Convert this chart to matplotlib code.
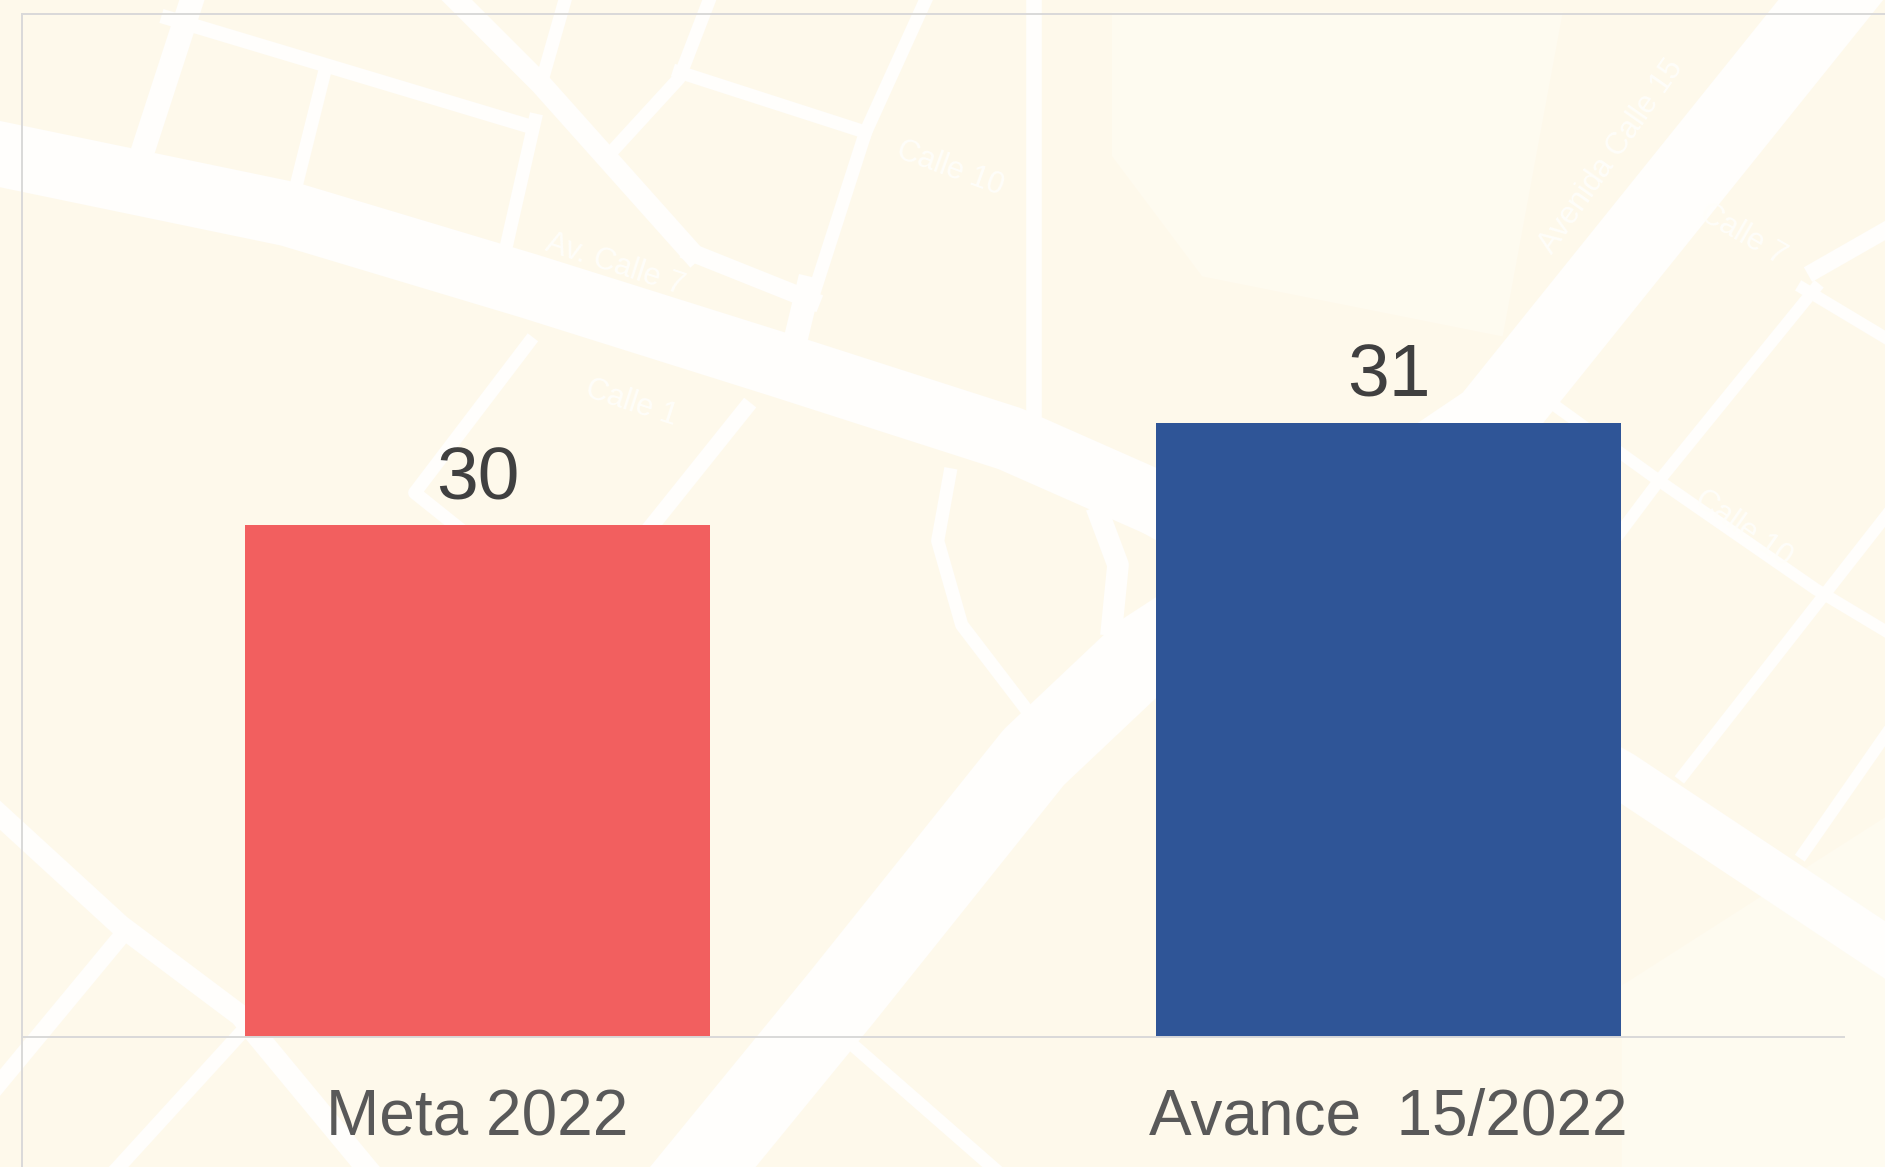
import matplotlib
matplotlib.use("Agg")
import matplotlib.pyplot as plt
from matplotlib.lines import Line2D
from matplotlib.patches import Polygon

plt.rcParams['font.family'] = ['Liberation Sans', 'DejaVu Sans']

categories = ["Meta 2022", "Avance  15/2022"]
values = [30, 31]
bar_colors = ["#F25F5F", "#2F5597"]

# background street map, traced by eye (x, y, width in px of the 1568 wide preview)
roads = [
    ([-30, 240, 440, 650, 840, 960], [122, 178, 238, 304, 365, 418], 54),
    ([1555, 1240, 1050, 950, 860, 700, 520], [-40, 352, 480, 545, 630, 830, 1050], 68),
    ([950, 1349, 1590], [420, 645, 805], 40),
    ([158, 118], [5, 128], 20),
    ([140, 440], [15, 105], 12),
    ([270, 245], [60, 160], 11),
    ([445, 420], [100, 210], 11),
    ([380, 450, 575], [0, 70, 210], 18),
    ([575, 675], [210, 250], 15),
    ([470, 450], [0, 70], 11),
    ([590, 565, 510], [0, 65, 125], 11),
    ([565, 720], [60, 110], 11),
    ([770, 720, 675, 660], [0, 110, 250, 290], 11),
    ([672, 660], [240, 290], 20),
    ([860, 860], [0, 385], 13),
    ([440, 345, 385], [285, 410, 442], 11),
    ([620, 540], [340, 440], 13),
    ([790, 780, 800, 865], [395, 450, 520, 605], 11),
    ([915, 930, 925], [430, 470, 520], 18),
    ([1510, 1380, 1200], [240, 400, 640], 10),
    ([1500, 1580], [240, 288], 10),
    ([1290, 1380, 1510, 1580], [335, 400, 490, 532], 10),
    ([1510, 1580], [225, 185], 14),
    ([1580, 1400], [415, 645], 10),
    ([1580, 1500], [595, 710], 10),
    ([-20, 100, 200, 320], [660, 770, 845, 990], 18),
    ([100, -20], [780, 925], 14),
    ([200, 95], [860, 975], 12),
    ([710, 830], [870, 975], 11),
]
pale_blocks = [
    ([925, 1300, 1250, 1000, 925], [10, 10, 280, 230, 130]),
    ([1349, 1568, 1568, 1349], [820, 680, 971, 971]),
]
street_names = [
    ("Calle 10", 790, 140, -20),
    ("Av. Calle 7", 512, 220, -18),
    ("Calle 1", 525, 335, -18),
    ("Avenida Calle 15", 1340, 130, 55),
    ("Calle 10", 1450, 440, -35),
    ("Calle 7", 1450, 195, -30),
]

fig = plt.figure(figsize=(18.85, 11.67), dpi=100, facecolor="#FEF9EB")

bg = fig.add_axes([0, 0, 1, 1], zorder=0)
bg.set_xlim(0, 1568)
bg.set_ylim(971, 0)
bg.axis("off")
for xs, ys in pale_blocks:
    bg.add_patch(Polygon(list(zip(xs, ys)), closed=True, fc="#FEFBF0", ec="none"))
for xs, ys, w in roads:
    # projecting caps, otherwise the wide roads get a square cut at the image edge
    bg.plot(xs, ys, color="#FFFEFC", lw=w * 0.866, solid_capstyle="projecting",
            solid_joinstyle="round")
for name, x, y, rot in street_names:
    bg.text(x, y, name, color="#FFFEFA", fontsize=22, rotation=rot, ha="center", va="center")

ax = fig.add_axes([22 / 1885, 130 / 1167, 1822 / 1885, 1023 / 1167], zorder=1)
ax.patch.set_alpha(0)
bars = ax.bar(range(len(categories)), values, width=0.51, color=bar_colors, zorder=2)
ax.set_xlim(-0.5, 1.5)
ax.set_ylim(25, 35)
ax.set_yticks([])
ax.set_xticks(range(len(categories)))
ax.set_xticklabels(categories, fontsize=46, color="#595959")
ax.tick_params(axis="x", length=0, pad=37)
for side in ["left", "right", "top"]:
    ax.spines[side].set_visible(False)
ax.spines["bottom"].set_color("#D9D9D9")
ax.spines["bottom"].set_linewidth(1.4)

for b, v in zip(bars, values):
    ax.annotate(str(v), (b.get_x() + b.get_width() / 2, v), xytext=(0, 19),
                textcoords="offset points", ha="center", va="baseline",
                fontsize=54, color="#404040")

# frame lines run past the plot area
fig.add_artist(Line2D([22 / 1885, 1], [1 - 14 / 1167] * 2, color="#D9D9D9", lw=1.4))
fig.add_artist(Line2D([22 / 1885] * 2, [0, 1 - 14 / 1167], color="#D9D9D9", lw=1.4))

fig.savefig("out.png", dpi=100, facecolor=fig.get_facecolor())
